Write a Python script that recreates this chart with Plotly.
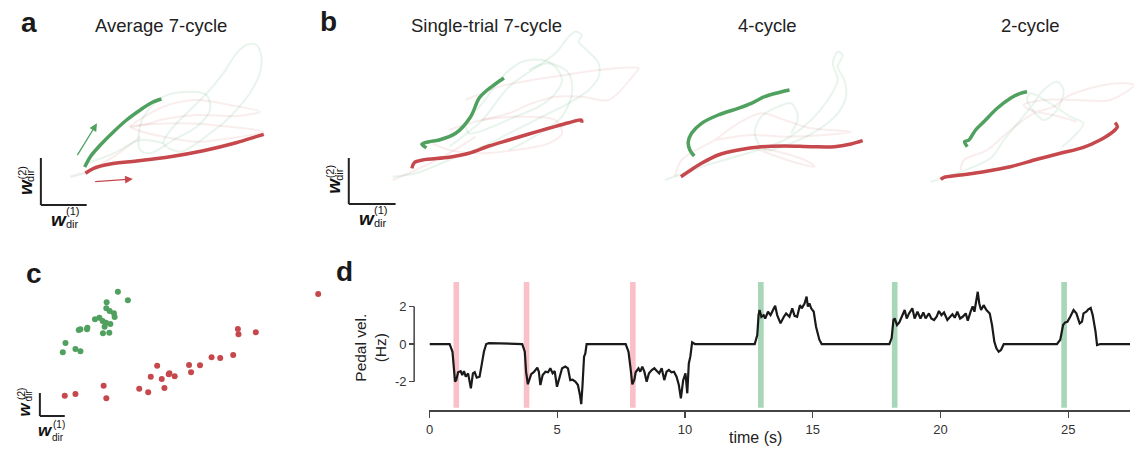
import plotly.graph_objects as go

W, H = 1134, 449
FONT = "Liberation Sans, Arial, Helvetica, sans-serif"
GREEN = "#50a05f"
RED = "#c6484c"
FG = "rgba(80,170,110,0.13)"
FR = "rgba(200,80,80,0.10)"
FGRAY = "rgba(140,140,140,0.16)"

# ---------------- panel a : average 7-cycle (state space, arbitrary units)
a_green_w1 = [44, 49.7, 59.7, 73, 86, 99.7, 111, 121]
a_green_w2 = [38, 48.3, 60, 73.3, 85, 95, 102.3, 106]
a_red_w1 = [44.7, 53, 69.7, 96, 129.7, 163, 196, 216, 223.7]
a_red_w2 = [31.7, 36.7, 41, 44, 48.3, 54.3, 62.3, 68.3, 70.7]
a_bg_green = [
    ([123, 133, 149.7, 166.3, 183, 196.3, 206.3, 216.3, 221.3, 219.7, 209.7, 196.3, 183, 169.7, 156.3, 139.7, 123],
     [61.7, 78.3, 95, 111.7, 131.7, 151.7, 160, 160, 148.3, 131.7, 111.7, 95, 81.7, 71.7, 61.7, 53.3, 61.7]),
    ([103, 123, 149.7, 166.3, 169.7, 156.3, 133, 109.7, 99.7, 98, 103],
     [88.3, 108.3, 113.3, 110, 95, 78.3, 65, 51.7, 55, 68.3, 88.3]),
    ([46.3, 73, 99.7, 123], [41.7, 51.7, 65, 61.7]),
]
a_bg_red = [
    ([89.7, 123, 156.3, 189.7, 219.7, 196.3, 156.3, 123, 103, 89.7],
     [78.3, 98.3, 105, 100, 93.3, 89, 90, 85.7, 80, 78.3]),
    ([89.7, 139.7, 189.7, 223, 189.7, 156.3, 123, 96.3, 89.7],
     [78.3, 81.7, 78.3, 73.3, 66.7, 63.3, 68.3, 75, 78.3]),
    ([43, 73, 99.7], [31.7, 48.3, 68.3]),
]
a_start_trail = ([29.7, 36, 43], [28.3, 30, 31.7])
a_arrow_green = (35.7, 48.3, 56.3, 81.7)
a_arrow_red = (53, 23.3, 92.3, 26)

# ---------------- panel b : single-trial 7-cycle
b1_green_w1 = [78, 73.3, 80.7, 90.7, 107.3, 122.3, 130.7, 139, 147, 155.7]
b1_green_w2 = [56.3, 59.7, 62.3, 64, 70.7, 87.3, 105.7, 114, 120, 126]
b1_red_w1 = [63.3, 65.7, 74, 100.7, 120.7, 140.7, 160.7, 180.7, 200.7, 220.7, 233.3, 234]
b1_red_w2 = [35.7, 41.3, 44, 46.7, 50.7, 58, 64, 70, 75.7, 81.3, 84, 81.3]
b1_bg_green = [
    ([100.7, 134, 160.7, 184, 207.3, 220.7, 227.3, 234, 230.7, 240.7, 250.7, 250.7, 240.7, 220.7, 194, 167.3, 134, 100.7, 67.3, 44],
     [57.3, 84, 117.3, 134, 150.7, 167.3, 172.3, 169, 162.3, 152.3, 140.7, 127.3, 114, 100.7, 87.3, 74, 57.3, 44, 30.7, 27.3]),
    ([154, 174, 194, 207.3, 214, 207.3, 190.7, 167.3, 144, 120.7, 117.3, 134, 154],
     [127.3, 142.3, 144, 137.3, 124, 110.7, 97.3, 87.3, 77.3, 70.7, 80.7, 100.7, 127.3]),
    ([180.7, 200.7, 220.7, 224, 214, 197.3, 174, 160.7],
     [134, 140.7, 130.7, 110.7, 87.3, 74, 60.7, 54]),
]
b1_bg_red = [
    ([117.3, 150.7, 184, 217.3, 250.7, 290.7, 287.3, 260.7, 234, 207.3, 184, 160.7, 134],
     [104, 117.3, 124, 129, 134, 135.7, 130.7, 104, 107.3, 107.3, 100.7, 90.7, 84]),
    ([100.7, 134, 174, 207.3, 214, 200.7, 167.3, 134, 100.7, 84],
     [74, 84, 87.3, 84, 70.7, 60.7, 54, 50.7, 54, 60.7]),
    ([44, 67.3, 100.7, 127.3], [24, 34, 50.7, 67.3]),
]

# ---------------- 4-cycle
b2_green_w1 = [37.7, 33.3, 31.7, 35, 45, 61.7, 81.7, 95, 108.3, 121.7, 133.3]
b2_green_w2 = [48, 54, 62.3, 70.7, 80.7, 89, 95.7, 100.7, 107.3, 111.3, 114]
b2_red_w1 = [24.3, 31.7, 45, 61.7, 81.7, 105, 128.3, 155, 178.3, 195, 206.7]
b2_red_w2 = [27.3, 32.3, 40.7, 49, 54, 57.3, 58, 57.3, 57.3, 60, 63.3]
b2_bg_green = [
    ([8.3, 45, 95, 128.3, 155, 171.7, 181.7, 176.7, 181.7, 186.7, 181.7, 188.3, 190, 181.7, 161.7, 135, 108.3, 98.3, 105, 121.7, 135, 141.7, 135],
     [24, 37.3, 52, 64, 84, 104, 124, 140.7, 152.3, 149, 137.3, 124, 107.3, 90.7, 74, 60.7, 54, 70.7, 87.3, 97.3, 100.7, 87.3, 70.7]),
]
b2_bg_red = [
    ([18.3, 25, 58.3, 81.7, 105, 128.3, 155, 195, 168.3, 128.3, 95, 58.3],
     [27.3, 44, 64, 80.7, 90.7, 84, 75.7, 72.3, 69, 67.3, 69, 64]),
    ([95, 128.3, 155, 158.3, 141.7, 111.7, 95], [57.3, 50.7, 40.7, 37.3, 40.7, 50.7, 57.3]),
]

# ---------------- 2-cycle
b3_green_w1 = [51.7, 49, 53.3, 60, 68.3, 70, 81.7, 95, 105, 111.7]
b3_green_w2 = [57.3, 62.3, 64, 74, 82.3, 84, 95.7, 105.7, 110.7, 112.3]
b3_red_w1 = [25, 28.3, 45, 68.3, 95, 121.7, 145, 168.3, 185, 196.7, 202.3, 200]
b3_red_w2 = [24.7, 26.7, 29, 32.3, 37.3, 44.7, 50.7, 56.7, 64, 71.3, 77.3, 81.3]
b3_bg_green = [
    ([15, 75, 88.3, 105, 118.3, 128.3, 141.7, 148.3, 141.7, 128.3, 111.7, 115, 135, 155, 168.3, 155, 146.7],
     [22.3, 45.7, 64, 84, 100.7, 114, 122.3, 114, 94, 84, 104, 110.7, 100.7, 87.3, 80.7, 64, 57.3]),
]
b3_bg_red = [
    ([45, 48.3, 71.7, 95, 118.3, 138.3, 151.7, 175, 201.7, 219, 195, 161.7, 128.3, 108.3, 115, 145, 161.7],
     [34, 44, 54, 74, 90.7, 97.3, 107.3, 115.7, 120.7, 119, 104, 104, 104, 99, 94, 87.3, 82.3]),
]

# ---------------- panel c : single-trial end points
c_green_w1 = [78.3, 88.3, 67, 66.7, 70, 74.3, 75, 59.7, 55.3, 63, 66.3, 70.7, 65, 47.7, 47.3, 40.7, 39, 63.3, 69.7, 25.7, 35.7, 40.7, 23]
c_green_w2 = [124.3, 115.7, 113.7, 107.7, 105, 102.7, 99, 98.3, 96.7, 95, 93.3, 92, 89.3, 88.3, 86.7, 86.7, 86, 82.7, 83.3, 73, 67, 64.7, 63.7]
c_red_w1 = [279.3, 198.7, 199.3, 216.7, 172.3, 181, 194, 149.7, 160.7, 117.7, 151.7, 130, 129.3, 135.3, 111.3, 122.3, 99.7, 108.7, 125, 64, 66.7, 25, 35.7]
c_red_w2 = [122, 87, 81.7, 83.7, 58.7, 58, 61, 51, 50.7, 50.3, 43.7, 42.7, 41.7, 39.7, 39.3, 37, 27.3, 23.7, 28, 30.3, 17.7, 20.3, 22]

# ---------------- panel d : pedal velocity
pedal_t = [0, 0.79, 0.9, 0.96, 1.0, 1.05, 1.12, 1.22, 1.28, 1.35, 1.42, 1.51, 1.62, 1.70, 1.77, 1.85, 1.96, 2.04, 2.13, 2.22, 2.33,
           3.63, 3.73, 3.78, 3.85, 3.91, 3.98, 4.08, 4.15, 4.22, 4.28, 4.34, 4.43, 4.54, 4.64, 4.73, 4.82, 4.9, 4.99, 5.08, 5.19,
           5.32, 5.42, 5.51, 5.6, 5.71, 5.81, 5.89, 5.94, 5.99, 6.05, 6.1, 6.15,
           7.68, 7.79, 7.87, 7.94, 8.02, 8.07, 8.18, 8.25, 8.33, 8.41, 8.5, 8.59, 8.7, 8.8, 8.9, 8.99, 9.09, 9.19, 9.28, 9.37,
           9.47, 9.57, 9.67, 9.76, 9.84, 9.93, 10.02, 10.09, 10.15, 10.21, 10.28, 10.39,
           12.73, 12.83, 12.88, 12.92, 12.99, 13.08, 13.14, 13.25, 13.35, 13.44, 13.53, 13.61, 13.74, 13.87, 13.96, 14.09, 14.2,
           14.29, 14.39, 14.5, 14.57, 14.68, 14.76, 14.81, 14.87, 14.94, 15.04, 15.13, 15.26, 15.35,
           18.0, 18.09, 18.16, 18.21, 18.3, 18.39, 18.51, 18.6, 18.68, 18.77, 18.9, 18.99, 19.1, 19.22, 19.33, 19.42, 19.55,
           19.64, 19.75, 19.85, 19.94, 20.04, 20.14, 20.27, 20.38, 20.47, 20.56, 20.66, 20.77, 20.87, 20.99, 21.07, 21.18,
           21.26, 21.33, 21.41, 21.46, 21.52, 21.59, 21.69, 21.8, 21.93, 22.02, 22.11, 22.19, 22.28, 22.37, 22.48,
           24.56, 24.69, 24.8, 24.88, 24.97, 25.08, 25.21, 25.32, 25.45, 25.54, 25.6, 25.71, 25.79, 25.88, 25.96, 26.07,
           26.13, 26.26, 27.42]
pedal_v = [0, 0, -0.41, -1.47, -2.0, -1.9, -1.5, -1.44, -1.65, -1.44, -1.74, -1.56, -2.36, -1.56, -1.5, -1.79, -1.74, -1.12, -0.41, 0, 0.05,
           0, -0.41, -1.47, -2.14, -1.9, -1.6, -1.5, -1.38, -1.26, -1.47, -2.18, -1.65, -1.47, -1.5, -1.29, -1.56, -1.44, -2.27, -1.83, -1.29,
           -1.2, -1.29, -1.92, -1.9, -2.0, -2.18, -2.71, -3.2, -2.18, -0.67, -0.5, 0,
           0, -0.41, -1.29, -2.14, -1.9, -1.5, -1.29, -1.47, -1.2, -1.47, -2.0, -1.56, -1.38, -1.29, -1.44, -1.56, -1.29, -1.92, -1.47, -1.38,
           -1.5, -1.47, -1.74, -2.18, -2.89, -1.92, -1.56, -2.62, -1.03, -0.67, 0.09, 0,
           0, 0.48, 1.54, 1.81, 1.45, 1.54, 1.36, 1.72, 1.54, 1.81, 2.04, 1.54, 1.1, 1.45, 1.63, 1.45, 1.9,
           1.5, 1.45, 2.07, 1.9, 2.16, 2.52, 1.99, 2.16, 1.9, 1.72, 0.92, 0.23, 0,
           0, 0.32, 1.28, 1.36, 1.01, 1.15, 1.54, 1.81, 1.36, 1.63, 1.9, 1.36, 1.72, 1.36, 1.68, 1.36, 1.63,
           1.36, 1.28, 1.45, 1.76, 1.54, 1.68, 1.28, 1.45, 1.58, 1.4, 1.72, 1.36, 1.45, 1.63, 1.24, 1.72,
           2.0, 1.72, 2.36, 2.78, 2.16, 1.81, 2.07, 1.81, 1.63, 1.0, 0.12, -0.23, -0.41, -0.32, 0,
           0, 0.23, 1.01, 1.15, 1.18, 1.45, 1.81, 1.63, 1.1, 1.19, 1.63, 1.72, 1.85, 1.92, 1.54, 0.66,
           -0.05, 0, 0]
red_cue_t = [0.94, 3.69, 7.85]
green_cue_t = [12.86, 18.1, 24.73]
cue_dur = 0.22
cue_low, cue_high = -3.39, 3.3
d_xticks = [0, 5, 10, 15, 20, 25]
d_yticks = [-2, 0, 2]

fig = go.Figure()
layout = dict(width=W, height=H, margin=dict(l=0, r=0, t=0, b=0),
              paper_bgcolor="white", plot_bgcolor="rgba(0,0,0,0)",
              showlegend=False, font=dict(family=FONT, color="#222"))


def px_dom_x(l, r):
    return [l / W, r / W]


def px_dom_y(t, b):
    return [1 - b / H, 1 - t / H]


# state-space panels: (axis index, box l,t,r,b in px, origin of scale bar in px)
panels = {
    "a": (1, (0, 30, 290, 235), (37, 205)),
    "b1": (2, (300, 25, 645, 235), (346, 204)),
    "b2": (3, (645, 25, 905, 235), (655, 204)),
    "b3": (4, (905, 25, 1134, 235), (915, 204)),
    "c": (5, (0, 250, 340, 445), (36, 416)),
}
for key, (n, (l, t, r, b), (x0, y0)) in panels.items():
    sx = "" if n == 1 else str(n)
    layout["xaxis" + sx] = dict(domain=px_dom_x(l, r), range=[l - x0, r - x0], visible=False,
                                anchor="y" + sx, fixedrange=True)
    layout["yaxis" + sx] = dict(domain=px_dom_y(t, b), range=[y0 - b, y0 - t], visible=False,
                                anchor="x" + sx, fixedrange=True)


def ax(n):
    return ("x", "y") if n == 1 else ("x%d" % n, "y%d" % n)


def line(n, xs, ys, color, width):
    xa, ya = ax(n)
    fig.add_trace(go.Scatter(x=xs, y=ys, mode="lines", xaxis=xa, yaxis=ya, hoverinfo="skip",
                             line=dict(color=color, width=width, shape="spline", smoothing=0.9)))


def state_panel(n, bg_g, bg_r, gx, gy, rx, ry):
    for xs, ys in bg_r:
        line(n, xs, ys, FR, 2)
    for xs, ys in bg_g:
        line(n, xs, ys, FG, 2)
    line(n, rx, ry, RED, 3.5)
    line(n, gx, gy, GREEN, 3.5)


line(1, a_start_trail[0], a_start_trail[1], FGRAY, 2.5)
state_panel(1, a_bg_green, a_bg_red, a_green_w1, a_green_w2, a_red_w1, a_red_w2)
state_panel(2, b1_bg_green, b1_bg_red, b1_green_w1, b1_green_w2, b1_red_w1, b1_red_w2)
state_panel(3, b2_bg_green, b2_bg_red, b2_green_w1, b2_green_w2, b2_red_w1, b2_red_w2)
state_panel(4, b3_bg_green, b3_bg_red, b3_green_w1, b3_green_w2, b3_red_w1, b3_red_w2)

# panel c scatter
fig.add_trace(go.Scatter(x=c_green_w1, y=c_green_w2, mode="markers", xaxis="x5", yaxis="y5",
                         marker=dict(color=GREEN, size=6, line=dict(width=0)), hoverinfo="skip"))
fig.add_trace(go.Scatter(x=c_red_w1, y=c_red_w2, mode="markers", xaxis="x5", yaxis="y5",
                         marker=dict(color=RED, size=6, line=dict(width=0)), hoverinfo="skip"))

# panel d
d_l, d_r, d_t, d_b = 427, 1130, 274.5, 410.4
layout["xaxis6"] = dict(domain=px_dom_x(d_l, d_r), range=[0, 27.42], anchor="y6",
                        showline=True, linecolor="#444", linewidth=1.5, showgrid=False, zeroline=False,
                        ticks="outside", ticklen=6, tickwidth=1.3, tickcolor="#444",
                        tickvals=d_xticks, tickfont=dict(size=13, color="#333"), fixedrange=True)
layout["yaxis6"] = dict(domain=px_dom_y(d_t, d_b), range=[-3.53, 3.7], anchor="free",
                        position=411.6 / W, showline=False, showgrid=False, zeroline=False,
                        ticks="outside", ticklen=5, tickwidth=1.3, tickcolor="#444",
                        tickvals=d_yticks, ticktext=[str(v) for v in d_yticks],
                        tickfont=dict(size=13, color="#333"), fixedrange=True)

shapes = []
for t0 in red_cue_t:
    shapes.append(dict(type="rect", xref="x6", yref="y6", x0=t0, x1=t0 + cue_dur, y0=cue_low, y1=cue_high,
                       fillcolor="#f9c0c8", line=dict(width=0), layer="below"))
for t0 in green_cue_t:
    shapes.append(dict(type="rect", xref="x6", yref="y6", x0=t0, x1=t0 + cue_dur, y0=cue_low, y1=cue_high,
                       fillcolor="#a8d6b8", line=dict(width=0), layer="below"))
shapes.append(dict(type="line", xref="paper", yref="y6", x0=411.6 / W, x1=411.6 / W, y0=-2, y1=2,
                   line=dict(color="#444", width=1.5)))

fig.add_trace(go.Scatter(x=pedal_t, y=pedal_v, mode="lines", xaxis="x6", yaxis="y6", hoverinfo="skip",
                         line=dict(color="#1a1a1a", width=2.2)))

# scale bars (L-shaped) in state-space panels
for xref, yref, hx, vy in [("x", "y", 46, 47), ("x2", "y2", 47, 46), ("x5", "y5", 25, 23)]:
    shapes.append(dict(type="line", xref=xref, yref=yref, x0=0, y0=0, x1=0, y1=vy, line=dict(color="#222", width=2)))
    shapes.append(dict(type="line", xref=xref, yref=yref, x0=0, y0=0, x1=hx, y1=0, line=dict(color="#222", width=2)))

# arrows in panel a
annotations = []
for (tx, ty, hx_, hy_), col in [(a_arrow_green, GREEN), (a_arrow_red, RED)]:
    annotations.append(dict(x=hx_, y=hy_, ax=tx, ay=ty, xref="x", yref="y", axref="x", ayref="y",
                            showarrow=True, arrowhead=2, arrowsize=1.2, arrowwidth=1.3, arrowcolor=col, text=""))


def note(px, py, text, size, angle=0, color="#222"):
    annotations.append(dict(x=px / W, y=1 - py / H, xref="paper", yref="paper", text=text, showarrow=False,
                            xanchor="center", yanchor="middle", textangle=angle,
                            font=dict(size=size, color=color, family=FONT)))


# panel letters
for letter, (px, py) in {"a": (25, 23), "b": (326, 21), "c": (30, 273), "d": (342, 271)}.items():
    note(px, py, "<b>%s</b>" % letter, 28, color="#1a1a1a")

# titles
note(158, 25, "Average 7-cycle", 18.5)
note(484, 25, "Single-trial 7-cycle", 18.5)
note(766.5, 25, "4-cycle", 18.5)
note(1030.5, 25, "2-cycle", 18.5)


def wlabels(cx, cy, rot, hor, big, small):
    (wx, wy), (sx_, sy_), (dx, dy) = rot
    note(cx + wx, cy + wy, "<b><i>w</i></b>", big, angle=-90, color="#111")
    note(cx + sx_, cy + sy_, "(2)", small, angle=-90, color="#111")
    note(cx + dx, cy + dy, "dir", small, angle=-90, color="#111")
    (wx, wy), (sx_, sy_), (dx, dy) = hor
    note(cx + wx, cy + wy, "<b><i>w</i></b>", big, color="#111")
    note(cx + sx_, cy + sy_, "(1)", small, color="#111")
    note(cx + dx, cy + dy, "dir", small, color="#111")


rot_ab = ((-15.5, -18.5), (-18.5, -32), (-10.5, -29.5))
hor_ab = ((18.5, 14), (32, 6), (32, 18.5))
wlabels(37, 205, rot_ab, hor_ab, 19, 11)
wlabels(346, 204, rot_ab, hor_ab, 19, 11)
wlabels(36, 416, ((-15, -7.5), (-18.5, -22.5), (-11.5, -21)), ((5.5, 14), (19.5, 8), (18.5, 21)), 17, 10)

# panel d axis titles
note(367, 348, "Pedal vel.<br>(Hz)", 15.5, angle=-90)
note(754, 437, "time (s)", 16)

layout["shapes"] = shapes
layout["annotations"] = annotations
fig.update_layout(**layout)
fig.write_html("out.html", config={"displayModeBar": False, "staticPlot": True},
               post_script="document.body.style.margin='0px';document.body.style.overflow='hidden';")
